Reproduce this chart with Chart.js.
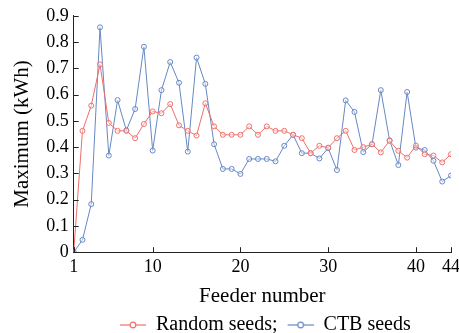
<!DOCTYPE html>
<html>
<head>
<meta charset="utf-8">
<script src="https://cdn.jsdelivr.net/npm/chart.js@4"></script>
<style>
  html, body { margin: 0; padding: 0; background: #fff; }
  #wrap { width: 459px; height: 333px; }
</style>
</head>
<body>
<div id="wrap"><canvas id="chart" width="459" height="333"></canvas></div>
<script>
// feeder numbers on the x axis
const feeders = [1, 2, 3, 4, 5, 6, 7, 8, 9, 10, 11, 12, 13, 14, 15, 16, 17, 18, 19, 20, 21, 22,
  23, 24, 25, 26, 27, 28, 29, 30, 31, 32, 33, 34, 35, 36, 37, 38, 39, 40, 41, 42, 43, 44];

const randomSeeds = [0, 0.462, 0.558, 0.715, 0.492, 0.462, 0.462, 0.434, 0.488, 0.536, 0.529,
  0.564, 0.483, 0.462, 0.444, 0.567, 0.479, 0.447, 0.447, 0.447, 0.479, 0.447, 0.479, 0.462,
  0.462, 0.447, 0.434, 0.377, 0.405, 0.398, 0.434, 0.462, 0.389, 0.4, 0.411, 0.38, 0.424,
  0.386, 0.36, 0.406, 0.373, 0.368, 0.342, 0.373];

const ctbSeeds = [0, 0.047, 0.183, 0.856, 0.368, 0.579, 0.464, 0.545, 0.782, 0.387, 0.617,
  0.724, 0.645, 0.383, 0.741, 0.641, 0.411, 0.317, 0.317, 0.298, 0.355, 0.355, 0.355, 0.346,
  0.405, 0.447, 0.377, 0.377, 0.357, 0.396, 0.313, 0.578, 0.534, 0.381, 0.411, 0.617, 0.426,
  0.332, 0.61, 0.398, 0.389, 0.348, 0.269, 0.292];

const xTicks = [1, 10, 20, 30, 40, 44];
const yTicks = [0, 0.1, 0.2, 0.3, 0.4, 0.5, 0.6, 0.7, 0.8, 0.9];

const RED = "#ef6f6c";
const BLUE = "#6688c4";
const FONT = "'Liberation Serif', 'Times New Roman', serif";

// legend sample: short line with an open circle in the middle (blank margin on the left)
function legendMark(color) {
  const c = document.createElement("canvas");
  c.width = 32; c.height = 10;
  const g = c.getContext("2d");
  g.strokeStyle = color;
  g.lineWidth = 1.2;
  g.beginPath(); g.moveTo(6, 5); g.lineTo(32, 5); g.stroke();
  g.fillStyle = "#fff";
  g.beginPath(); g.arc(19, 5, 2.8, 0, Math.PI * 2); g.fill(); g.stroke();
  return c;
}

// tick marks pointing into the plot
const inwardTicks = {
  id: "inwardTicks",
  afterDraw(chart) {
    const { ctx, scales: { x, y } } = chart;
    ctx.save();
    ctx.strokeStyle = "#222";
    ctx.lineWidth = 1;
    x.ticks.forEach(t => {
      const px = Math.round(x.getPixelForValue(t.value)) + 0.5;
      ctx.beginPath(); ctx.moveTo(px, y.bottom); ctx.lineTo(px, y.bottom - 5); ctx.stroke();
    });
    y.ticks.forEach(t => {
      const py = Math.round(y.getPixelForValue(t.value)) + 0.5;
      ctx.beginPath(); ctx.moveTo(x.left, py); ctx.lineTo(x.left + 5, py); ctx.stroke();
    });
    ctx.restore();
  },
};

function series(label, values, color) {
  return {
    label,
    data: values.map((v, i) => ({ x: feeders[i], y: v })),
    borderColor: color,
    backgroundColor: "rgba(255,255,255,0.6)",
    borderWidth: 1,
    pointRadius: 2.5,
    pointBorderWidth: 1,
    pointBorderColor: color,
    pointBackgroundColor: "rgba(255,255,255,0.4)",
    tension: 0,
    legendMark: legendMark(color),
  };
}

new Chart(document.getElementById("chart"), {
  type: "line",
  data: {
    datasets: [
      series("Random seeds;", randomSeeds, RED),
      series("CTB seeds", ctbSeeds, BLUE),
    ],
  },
  options: {
    responsive: false,
    animation: false,
    layout: { padding: { top: 6, right: 0, left: 10, bottom: -12 } },
    plugins: {
      tooltip: { enabled: false },
      legend: {
        position: "bottom",
        fullSize: false,
        labels: {
          color: "#000",
          font: { family: FONT, size: 20 },
          usePointStyle: true,
          pointStyleWidth: 32,
          padding: 4,
          boxHeight: 10,
          generateLabels: chart => chart.data.datasets.map((ds, i) => ({
            text: ds.label,
            pointStyle: ds.legendMark,
            datasetIndex: i,
            fontColor: "#000",
            lineWidth: 0,
          })),
        },
      },
    },
    scales: {
      x: {
        type: "linear",
        min: 1,
        max: 44,
        afterBuildTicks: s => { s.ticks = xTicks.map(v => ({ value: v })); },
        afterFit: s => { s.paddingRight = 8; },
        ticks: { color: "#000", font: { family: FONT, size: 18 }, maxRotation: 0, autoSkip: false, padding: 4 },
        grid: { display: false, drawTicks: false },
        border: { display: true, color: "#222", width: 1 },
        title: { display: true, text: "Feeder number", color: "#000", font: { family: FONT, size: 21 }, padding: { top: 2, bottom: 2 } },
      },
      y: {
        min: 0,
        max: 0.9,
        afterBuildTicks: s => { s.ticks = yTicks.map(v => ({ value: v })); },
        ticks: { color: "#000", font: { family: FONT, size: 18 }, autoSkip: false, padding: 5 },
        grid: { display: false, drawTicks: false },
        border: { display: true, color: "#222", width: 1 },
        title: { display: true, text: "Maximum (kWh)", color: "#000", font: { family: FONT, size: 21 }, padding: { top: 0, bottom: 6 } },
      },
    },
  },
  plugins: [inwardTicks],
});
</script>
</body>
</html>
